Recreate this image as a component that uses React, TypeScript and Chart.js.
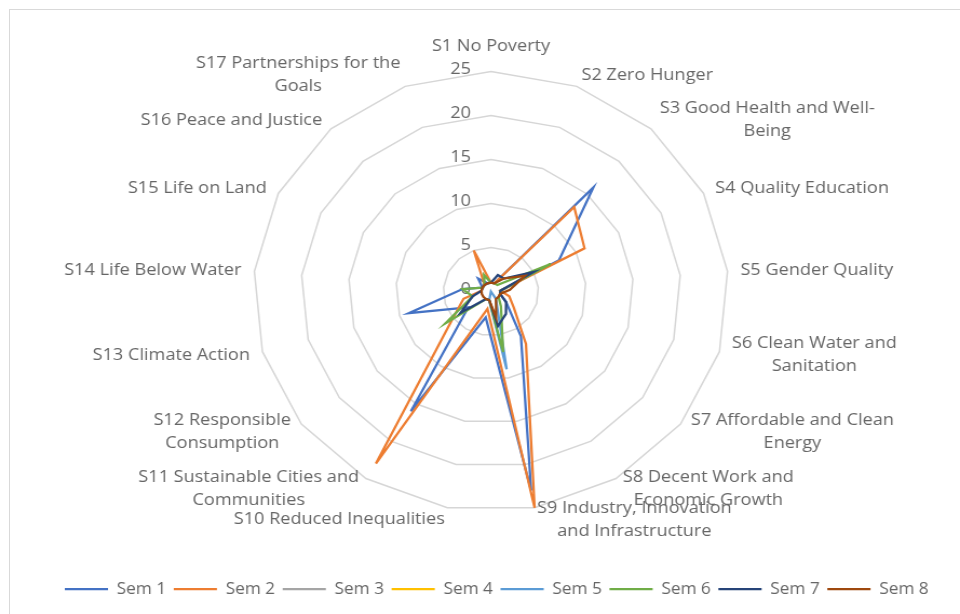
import React, { useEffect, useRef } from "react";
import { Chart, registerables } from "chart.js";

Chart.register(...registerables);

// ---------- data ----------
const categories: string[][] = [
  ["S1 No Poverty"],
  ["S2 Zero Hunger"],
  ["S3 Good Health and Well-", "Being"],
  ["S4 Quality Education"],
  ["S5 Gender Quality"],
  ["S6 Clean Water and", "Sanitation"],
  ["S7 Affordable and Clean", "Energy"],
  ["S8 Decent Work and", "Economic Growth"],
  ["S9 Industry, Innovation", "and Infrastructure"],
  ["S10 Reduced Inequalities"],
  ["S11 Sustainable Cities and", "Communities"],
  ["S12 Responsible", "Consumption"],
  ["S13 Climate Action"],
  ["S14 Life Below Water"],
  ["S15 Life on Land"],
  ["S16 Peace and Justice"],
  ["S17 Partnerships for the", "Goals"],
];

const seriesNames = ["Sem 1", "Sem 2", "Sem 3", "Sem 4", "Sem 5", "Sem 6", "Sem 7", "Sem 8"];

const sem1 = [1, 1, 16, 8, 1, 1, 2, 6, 23, 3, 16, 3, 9, 3, 1, 2, 1];
const sem2 = [1, 1, 13, 11, 1, 2, 3, 7, 25, 2, 23, 5, 3, 1, 1, 1, 5];
const sem3 = [0, 0, 0, 0, 0, 0, 0, 0, 0, 0, 0, 0, 0, 0, 0, 0, 0];
const sem4 = [0, 0, 0, 0, 0, 0, 0, 0, 0, 0, 0, 0, 0, 0, 0, 0, 0];
const sem5 = [0, 0, 0, 0, 0, 0, 0, 1, 9, 1, 0, 0, 0, 0, 0, 0, 0];
const sem6 = [1, 1, 1, 7, 1, 1, 1, 2, 7, 1, 1, 6, 2, 3, 1, 1, 2];
const sem7 = [1, 2, 2, 5, 1, 1, 2, 3, 4, 1, 1, 4, 2, 1, 1, 1, 1];
const sem8 = [1, 1, 2, 4, 2, 1, 1, 1, 3, 1, 1, 1, 1, 1, 1, 1, 1];

const tickValues = [0, 5, 10, 15, 20, 25];

const seriesColors = ["#4472C4", "#ED7D31", "#A5A5A5", "#FFC000", "#5B9BD5", "#70AD47", "#264478", "#9E480E"];

// ---------- layout (the picture is horizontally stretched) ----------
const STRETCH = 1.08;
const PAGE_W = 960;
const PAGE_H = 614;
const CANVAS_W = Math.round(PAGE_W / STRETCH);
const CENTER_X = 491 / STRETCH;
const CENTER_Y = 291.5;
const RADIUS = 220;
const TEXT_COLOR = "#666666";
const FONT_FAMILY = '"Open Sans", "Noto Sans", sans-serif';
const LABEL_SIZE = 16.8;
const LINE_H = 23;

const excelLabels = {
  id: "excelLabels",
  beforeDatasetsDraw(chart: any) {
    const scale = chart.scales.r;
    const ctx = chart.ctx;
    ctx.save();
    ctx.font = `${LABEL_SIZE}px ${FONT_FAMILY}`;
    ctx.fillStyle = TEXT_COLOR;
    ctx.textAlign = "right";
    ctx.textBaseline = "middle";
    scale.ticks.forEach((t: any) => {
      const d = scale.getDistanceFromCenterForValue(t.value);
      ctx.fillText(String(t.value), scale.xCenter - 18.5, scale.yCenter - d - 2.5);
    });
    ctx.restore();
  },
  afterDraw(chart: any) {
    const scale = chart.scales.r;
    const ctx = chart.ctx;
    const labels = chart.data.labels as string[][];
    ctx.save();
    ctx.font = `${LABEL_SIZE}px ${FONT_FAMILY}`;
    ctx.fillStyle = TEXT_COLOR;
    ctx.textAlign = "center";
    ctx.textBaseline = "middle";
    labels.forEach((lines, i) => {
      const p = scale.getPointPosition(i, scale.drawingArea + 12);
      const dx = p.x - scale.xCenter;
      const w = Math.max(...lines.map((l) => ctx.measureText(l).width));
      let left: number;
      if (Math.abs(dx) < 1) left = p.x - w / 2;
      else if (dx > 0) left = p.x;
      else left = p.x - w;
      const blockH = lines.length * LINE_H;
      const cy = i === 0 ? p.y - blockH / 2 - 2 : p.y;
      lines.forEach((l, j) => {
        ctx.fillText(l, left + w / 2, cy - blockH / 2 + LINE_H * (j + 0.5));
      });
    });
    ctx.restore();
  },
};

export default function App() {
  const canvasRef = useRef<HTMLCanvasElement | null>(null);

  useEffect(() => {
    if (!canvasRef.current) return;
    const allSeries = [sem1, sem2, sem3, sem4, sem5, sem6, sem7, sem8];
    const chart = new Chart(canvasRef.current, {
      type: "radar",
      data: {
        labels: categories as any,
        datasets: allSeries.map((values, i) => ({
          label: seriesNames[i],
          data: values,
          borderColor: seriesColors[i],
          backgroundColor: seriesColors[i],
          borderWidth: 2.25,
          pointRadius: 0,
          pointHoverRadius: 0,
          fill: false,
          order: allSeries.length - 1 - i,
        })),
      },
      options: {
        responsive: false,
        devicePixelRatio: 1,
        animation: false,
        layout: { padding: { left: 31, right: 0, top: 0, bottom: 7 } },
        plugins: {
          tooltip: { enabled: false },
          legend: {
            position: "bottom",
            labels: {
              usePointStyle: true,
              pointStyle: "line",
              pointStyleWidth: 40,
              padding: 7,
              color: TEXT_COLOR,
              font: { family: FONT_FAMILY, size: 16 },
              sort: (a: any, b: any) => a.datasetIndex - b.datasetIndex,
            },
          },
        },
        scales: {
          r: {
            min: tickValues[0],
            max: tickValues[tickValues.length - 1],
            ticks: { stepSize: tickValues[1] - tickValues[0], display: false },
            grid: { color: "#d6d6d6", lineWidth: 1.5 },
            angleLines: { display: false },
            pointLabels: { display: false },
            afterFit: (scale: any) => {
              scale.xCenter = CENTER_X;
              scale.yCenter = CENTER_Y;
              scale.drawingArea = RADIUS;
            },
          } as any,
        },
      },
      plugins: [excelLabels],
    });
    return () => chart.destroy();
  }, []);

  return (
    <div
      style={{
        position: "absolute",
        left: 0,
        top: 0,
        width: PAGE_W,
        height: PAGE_H,
        overflow: "hidden",
        background: "#ffffff",
      }}
    >
      <canvas
        ref={canvasRef}
        width={CANVAS_W}
        height={PAGE_H}
        style={{ position: "absolute", left: 0, top: 0, width: PAGE_W + "px", height: PAGE_H + "px" }}
      />
      <div
        style={{
          position: "absolute",
          left: 9,
          top: 9,
          width: 980,
          height: 640,
          border: "1px solid #d9d9d9",
          boxSizing: "border-box",
          pointerEvents: "none",
        }}
      />
    </div>
  );
}
